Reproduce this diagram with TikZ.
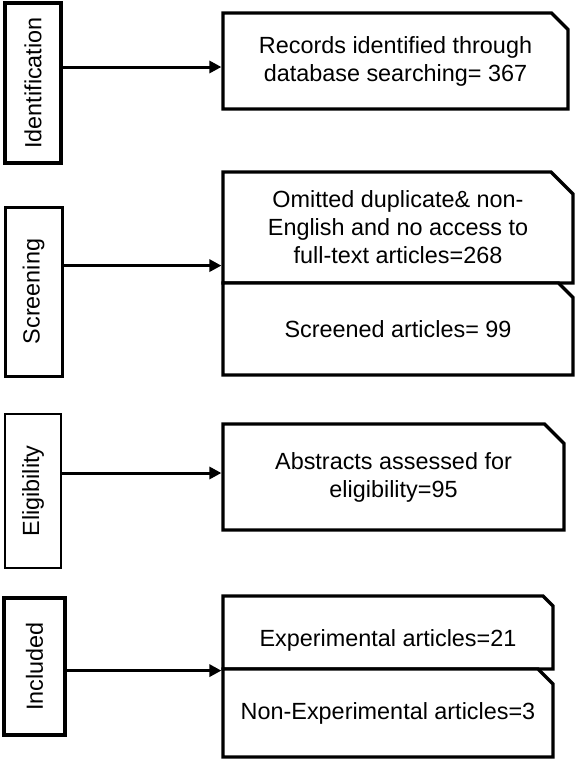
\documentclass[tikz,border=0pt]{standalone}
\usepackage{fontspec}
\setmainfont{Liberation Sans}
\usetikzlibrary{shapes.misc,arrows.meta,positioning,calc}

\tikzset{
  stage/.style={draw, rotate=90, inner sep=0pt, font=\fontsize{11.7}{14}\selectfont},
  cutbox/.style={chamfered rectangle, chamfered rectangle corners=north east,
    draw, line width=1.6pt, fill=white, inner sep=0pt, align=center,
    font=\fontsize{11.7}{14}\selectfont},
  arr/.style={line width=1.5pt, -{Triangle[length=6pt,width=6pt]}}
}

\begin{document}
\begin{tikzpicture}[x=0.5pt,y=-0.5pt]
  \useasboundingbox (0,0) rectangle (578,760);
  % stages
  \node[stage, line width=2pt, minimum width=80pt, minimum height=28pt] (idn) at (33,83) {Identification};
  \node[stage, line width=1.5pt, minimum width=84.5pt, minimum height=28.5pt] (scrn) at (33.5,291.5) {Screening};
  \node[stage, line width=1.4pt, minimum width=77pt, minimum height=28pt] (elig) at (33,491) {Eligibility};
  \node[stage, line width=2.2pt, minimum width=68.5pt, minimum height=30.5pt] (incl) at (34.5,666.5) {Included};
  % boxes
  \node[cutbox, minimum width=172.5pt, minimum height=48pt, chamfered rectangle xsep=4.5pt, chamfered rectangle ysep=3.75pt] (rec) at (395.5,61) {Records identified through\\database searching= 367};
  \node[cutbox, minimum width=175pt, minimum height=55.5pt, chamfered rectangle xsep=5.75pt, chamfered rectangle ysep=5.25pt] (omit) at (398,227.5) {Omitted duplicate\& non-\\English and no access to\\full-text articles=268};
  \node[cutbox, minimum width=175pt, minimum height=46pt, chamfered rectangle xsep=3.75pt, chamfered rectangle ysep=3.5pt] (scrd) at (398,329) {Screened articles= 99};
  \node[cutbox, minimum width=170.5pt, minimum height=53pt, chamfered rectangle xsep=5.25pt, chamfered rectangle ysep=4.5pt] (abst) at (393.5,477) {Abstracts assessed for\\eligibility=95};
  \node[cutbox, minimum width=165pt, minimum height=36.5pt, chamfered rectangle xsep=5.75pt, chamfered rectangle ysep=5pt] (expr) at (388,632.5) {\raisebox{-7pt}[0pt][0pt]{Experimental articles=21}};
  \node[cutbox, minimum width=165pt, minimum height=44pt, chamfered rectangle xsep=4pt, chamfered rectangle ysep=3.5pt] (nexp) at (388,713) {Non-Experimental articles=3};
  % arrows
  \draw[arr] ([yshift=-3pt]rec.west -| idn.south) -- ([yshift=-3pt]rec.west);
  \draw[arr] ([yshift=9.5pt]omit.south west -| scrn.south) -- ([yshift=9.5pt]omit.south west);
  \draw[arr] ([yshift=2pt]abst.west -| elig.south) -- ([yshift=2pt]abst.west);
  \draw[arr] (expr.south west -| incl.south) -- (expr.south west);
\end{tikzpicture}
\end{document}
